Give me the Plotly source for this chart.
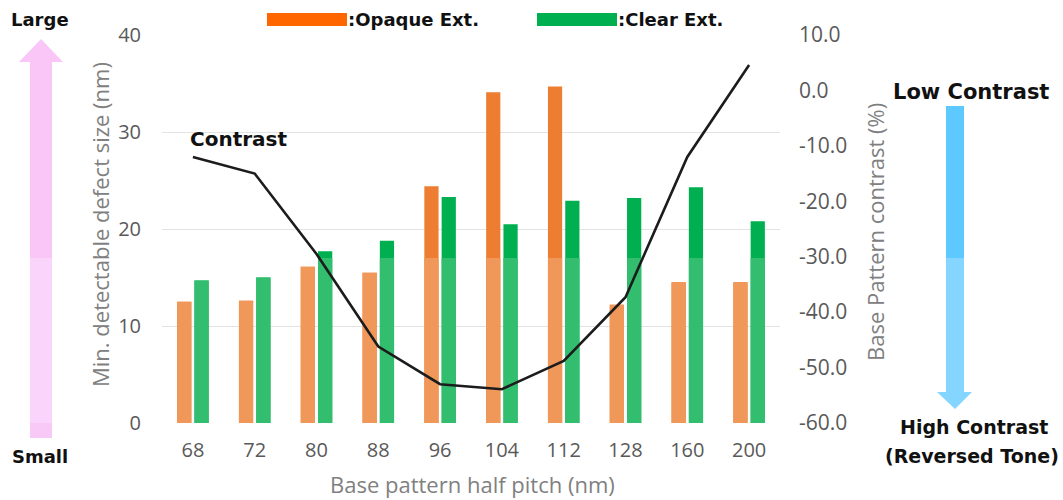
import numpy as np
import plotly.graph_objects as go

# Base pattern half pitch categories (nm)
pitches = ["68", "72", "80", "88", "96", "104", "112", "128", "160", "200"]
# Minimum detectable defect size (nm)
opaque_ext = [12.5, 12.6, 16.1, 15.5, 24.4, 34.1, 34.7, 12.2, 14.5, 14.5]
clear_ext = [14.7, 15.0, 17.7, 18.8, 23.3, 20.5, 22.9, 23.2, 24.3, 20.8]
# Base pattern contrast (%)
contrast = [-12.0, -15.0, -29.5, -46.2, -53.0, -53.9, -48.8, -37.3, -12.0, 4.6]

# axis ticks
size_ticks = [0, 10, 20, 30, 40]
contrast_ticks = [10, 0, -10, -20, -30, -40, -50, -60]
contrast_tick_text = ["10.0", "0.0", "-10.0", "-20.0", "-30.0", "-40.0", "-50.0", "-60.0"]

W, H = 1063, 500
L, R, T, B = 162, 780, 35, 423

ORANGE_DARK, ORANGE_LIGHT = "#ED7D31", "#F0975A"
GREEN_DARK, GREEN_LIGHT = "#00B050", "#33BE6F"
SHADE_LEVEL = 17  # lower part of each bar is printed in a lighter tone
BAR_W = 0.23


def px(x):
    return (x - L) / (R - L)


def py(y):
    return (B - y) / (B - T)


fig = go.Figure()

for vals, dark, light, off, name in [
    (opaque_ext, ORANGE_DARK, ORANGE_LIGHT, -0.255, ":Opaque Ext."),
    (clear_ext, GREEN_DARK, GREEN_LIGHT, 0.025, ":Clear Ext."),
]:
    fig.add_trace(go.Bar(x=pitches, y=vals, marker=dict(color=dark, line_width=0),
                         width=BAR_W, offset=off, name=name, showlegend=False))
    fig.add_trace(go.Bar(x=pitches, y=np.minimum(vals, SHADE_LEVEL),
                         marker=dict(color=light, line_width=0),
                         width=BAR_W, offset=off, showlegend=False, hoverinfo="skip"))

fig.add_trace(go.Scatter(x=pitches, y=contrast, yaxis="y2", mode="lines",
                         line=dict(color="#1c1c1c", width=2.6), name="Contrast",
                         showlegend=False))

tick_font = dict(family="Open Sans", size=20, color="#595959")
title_font = dict(family="Open Sans", size=22, color="#808080")
bold = dict(family="DejaVu Sans", weight="bold", color="#111111")

fig.update_layout(
    width=W, height=H, autosize=False,
    margin=dict(l=L, r=W - R, t=T, b=H - B),
    paper_bgcolor="white", plot_bgcolor="white",
    barmode="overlay", showlegend=False,
    xaxis=dict(type="category", showgrid=False, zeroline=False, showline=False,
               ticks="", tickfont=tick_font, ticklabelstandoff=13),
    yaxis=dict(range=[0, 40], tickvals=size_ticks, showgrid=True, gridcolor="#E3E3E3",
               gridwidth=1, zeroline=False, showline=False, ticks="",
               tickfont=tick_font, ticklabelstandoff=20),
    yaxis2=dict(range=[-60, 10], tickvals=contrast_ticks, ticktext=contrast_tick_text,
                overlaying="y", side="right", showgrid=False, zeroline=False,
                showline=False, ticks="", tickfont=dict(tick_font, size=21),
                ticklabelstandoff=18),
)

shapes = []
# legend swatches
shapes.append(dict(type="rect", xref="paper", yref="paper", x0=px(267), x1=px(347),
                   y0=py(26), y1=py(13), fillcolor="#FF6600", line_width=0))
shapes.append(dict(type="rect", xref="paper", yref="paper", x0=px(537), x1=px(617),
                   y0=py(26), y1=py(13), fillcolor=GREEN_DARK, line_width=0))


def arrow_path(pts):
    return "M " + " L ".join(f"{px(x)},{py(y)}" for x, y in pts) + " Z"


# size arrow (pointing up), three tonal bands
shapes.append(dict(type="path", xref="paper", yref="paper", line_width=0,
                   fillcolor="#F9C6F7",
                   path=arrow_path([(41, 39), (63, 62), (52, 62), (52, 258), (30, 258),
                                    (30, 62), (19, 62)])))
shapes.append(dict(type="rect", xref="paper", yref="paper", line_width=0,
                   fillcolor="#FBD4FB", x0=px(30), x1=px(52), y0=py(423), y1=py(258)))
shapes.append(dict(type="rect", xref="paper", yref="paper", line_width=0,
                   fillcolor="#F8C8F6", x0=px(30), x1=px(52), y0=py(438), y1=py(423)))
# contrast arrow (pointing down), two tonal bands
shapes.append(dict(type="rect", xref="paper", yref="paper", line_width=0,
                   fillcolor="#5EC9FE", x0=px(946), x1=px(964), y0=py(258), y1=py(106)))
shapes.append(dict(type="path", xref="paper", yref="paper", line_width=0,
                   fillcolor="#84D5FF",
                   path=arrow_path([(946, 258), (964, 258), (964, 392), (972, 392),
                                    (955, 409), (937, 392), (946, 392)])))
fig.update_layout(shapes=shapes)


def note(text, x, y, size, font=bold, xanchor="center", angle=0):
    fig.add_annotation(text=text, xref="paper", yref="paper", x=px(x), y=py(y),
                       xanchor=xanchor, yanchor="middle", showarrow=False,
                       textangle=angle, font=dict(font, size=size))


note(":Opaque Ext.", 346, 20, 18, xanchor="left")
note(":Clear Ext.", 616, 20, 18, xanchor="left")
note("Contrast", 238, 139, 20)
note("Large", 40, 20, 18)
note("Small", 40, 457, 18)
note("Low Contrast", 971, 92, 21)
note("High Contrast", 974, 427, 19)
note("(Reversed Tone)", 972, 456, 19)
note("Min. detectable defect size (nm)", 100, 225, 22, font=title_font, angle=-90)
note("Base Pattern contrast (%)", 875, 232, 22, font=title_font, angle=-90)
note("Base pattern half pitch (nm)", 472, 484, 22, font=title_font)

fig.write_html("out.html")
